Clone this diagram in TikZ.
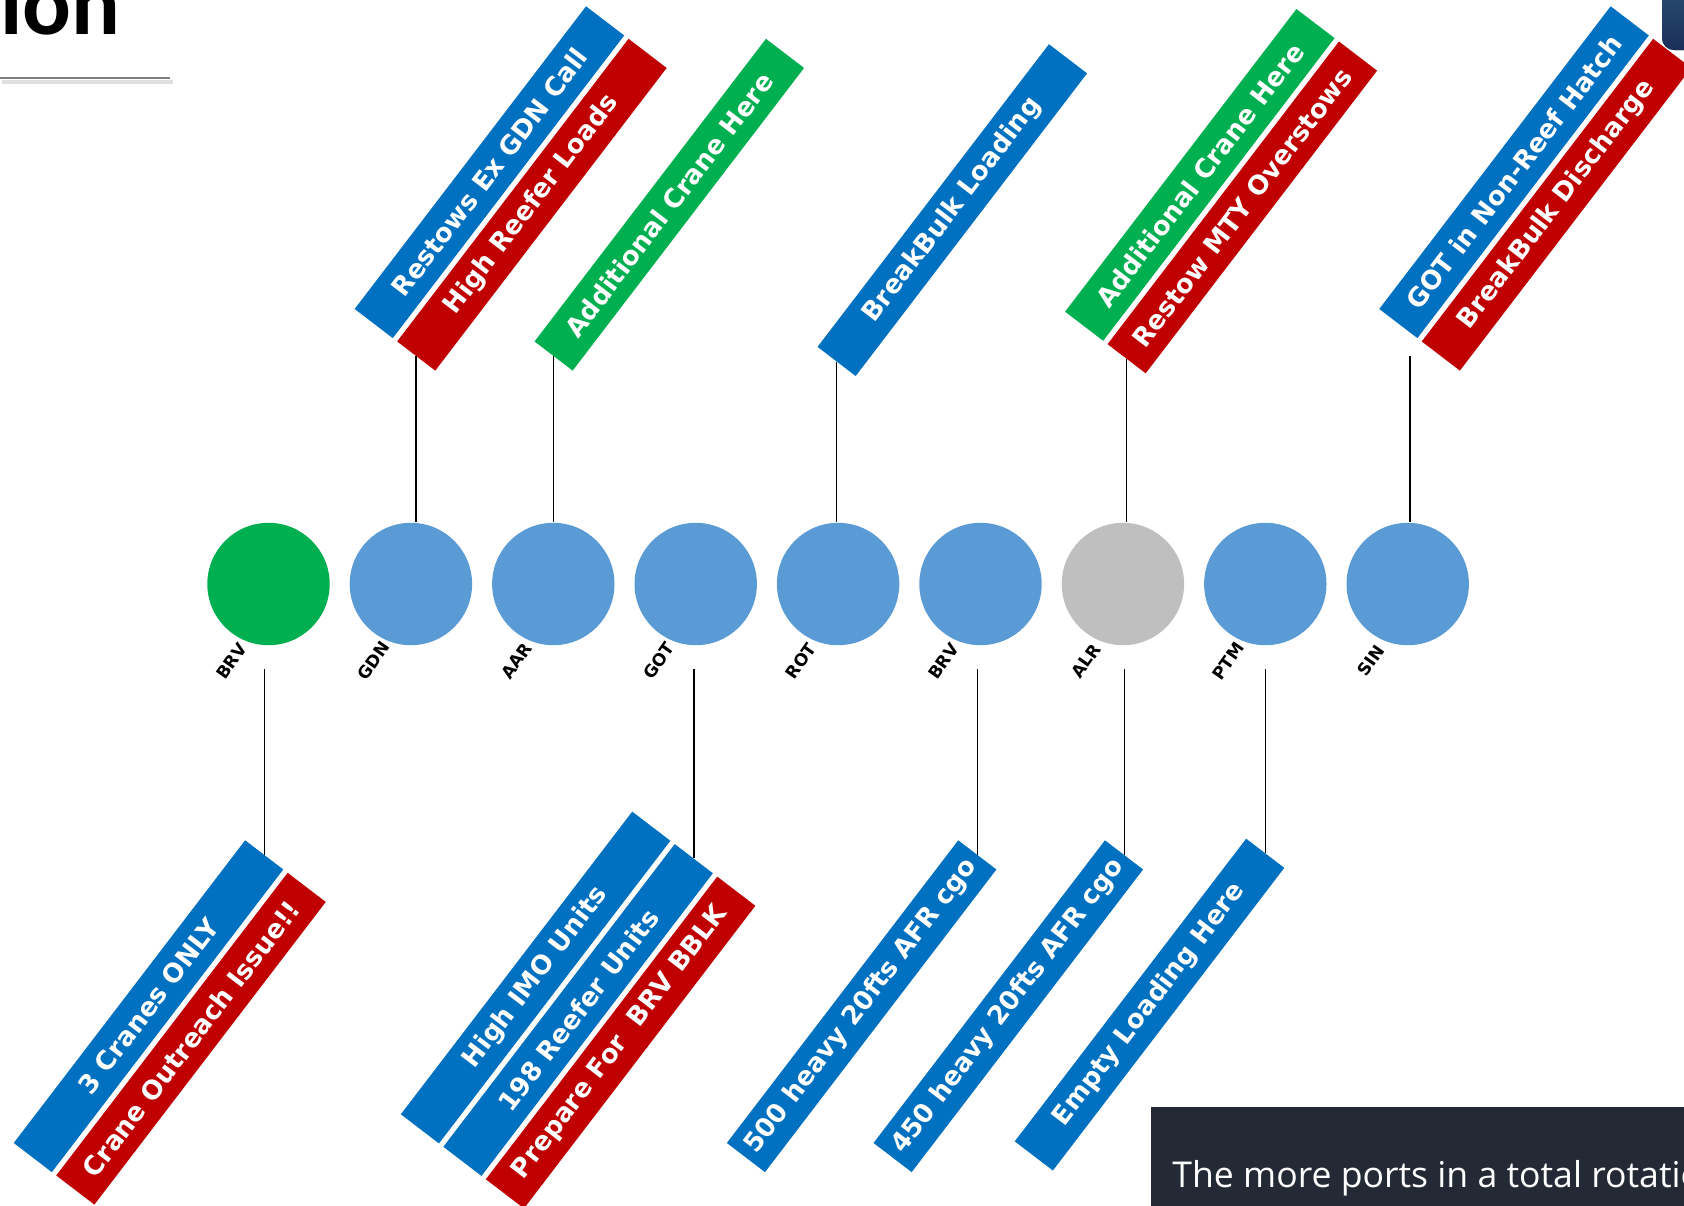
\documentclass[tikz,border=0pt]{standalone}
\usepackage{fontspec}
\usepackage{tikz}
\newfontfamily\bannerfont{DejaVu Sans}
\newfontfamily\titlefont{Carlito}
\newfontfamily\notefont{Open Sans}
\definecolor{oblue}  {RGB}{0,112,192}
\definecolor{ored}   {RGB}{192,0,0}
\definecolor{ogreen} {RGB}{0,176,80}
\definecolor{pblue}  {RGB}{91,155,213}
\definecolor{pgray}  {RGB}{191,191,191}
\definecolor{rulegray}{RGB}{128,128,128}
\definecolor{notebg} {RGB}{35,42,53}
\definecolor{tabtop} {RGB}{46,90,122}
\definecolor{tabbot} {RGB}{27,47,90}
\tikzset{
    port/.style={circle, minimum size=61.2pt, inner sep=0pt, fill=pblue},
    portname/.style={rotate=55, inner sep=0pt,
             font=\bannerfont\bfseries\fontsize{8.5}{10}\selectfont},
    banner/.style={rotate=52.6, minimum width=190.5pt, minimum height=24pt,
             inner sep=0pt, text=white,
             font=\bannerfont\bfseries\fontsize{13}{15}\selectfont},
    bluebanner/.style={banner, fill=oblue},
    redbanner/.style={banner, fill=ored},
    greenbanner/.style={banner, fill=ogreen},
    tag/.style={draw=black, line width=0.7pt}
  }
\begin{document}
\begin{tikzpicture}[x=0.5pt, y=-0.5pt]
 \useasboundingbox (0,0) rectangle (1684,1205);
 %title remainder
     \node[anchor=base west, inner sep=0pt,
           font=\titlefont\bfseries\fontsize{45.5}{50}\selectfont] (title) at (0,34) {ion};
     \draw[rulegray!50, line width=2pt, opacity=.5] (2,82) -- (173,82);
     \draw[rulegray, line width=1.4pt] (0,78) -- (170,78);
 %tab top right
     \fill[top color=tabtop, bottom color=tabbot, rounded corners=6pt] (1662,-40) rectangle (1760,50);
 %ports
     \node[port, fill=ogreen] (brvA) at (268.5,584) {};
     \node[port] (gdn)  at (410.9,584) {};
     \node[port] (aar)  at (553.3,584) {};
     \node[port] (got)  at (695.7,584) {};
     \node[port] (rot)  at (838.1,584) {};
     \node[port] (brvB) at (980.5,584) {};
     \node[port, fill=pgray] (alr) at (1122.9,584) {};
     \node[port] (ptm)  at (1265.3,584) {};
     \node[port] (sin)  at (1407.7,584) {};
 %port names
     \node[portname] (brvA-lab) at (231.5,661) {BRV};
     \node[portname] (gdn-lab)  at (373.9,661) {GDN};
     \node[portname] (aar-lab)  at (516.3,661) {AAR};
     \node[portname] (got-lab)  at (658.7,661) {GOT};
     \node[portname] (rot-lab)  at (801.1,661) {ROT};
     \node[portname] (brvB-lab) at (943.5,661) {BRV};
     \node[portname] (alr-lab)  at (1085.9,661) {ALR};
     \node[portname] (ptm-lab)  at (1228.3,661) {PTM};
     \node[portname] (sin-lab)  at (1370.7,661) {SIN};
 %banners above
     \node[bluebanner]  (gdnT1) at (489.4,172.2) {Restows Ex GDN Call};
     \node[redbanner]   (gdnT2) at (531.9,204.7) {High Reefer Loads};
     \node[greenbanner] (aarT1) at (669.3,204.7) {Additional Crane Here};
     \node[bluebanner]  (rotT1) at (952.3,210.1) {BreakBulk Loading};
     \node[greenbanner] (alrT1) at (1199.8,174.9) {Additional Crane Here};
     \node[redbanner]   (alrT2) at (1242.3,207.4) {Restow MTY Overstows};
     \node[bluebanner]  (sinT1) at (1514.0,172.2) {GOT in Non-Reef Hatch};
     \node[redbanner]   (sinT2) at (1556.5,204.7) {BreakBulk Discharge};
 %banners below
     \node[bluebanner]  (brvAB1) at (148.5,1006.2) {3 Cranes ONLY};
     \node[redbanner]   (brvAB2) at (191.0,1038.7) {Crane Outreach Issue!!};
     \node[bluebanner]  (gotB1)  at (535.6,977.5) {High IMO Units};
     \node[bluebanner]  (gotB2)  at (578.1,1010.0) {198 Reefer Units};
     \node[redbanner]   (gotB3)  at (620.6,1042.5) {Prepare For\ \ BRV BBLK};
     \node[bluebanner]  (brvBB1) at (861.6,1006.2) {500 heavy 20fts AFR cgo};
     \node[bluebanner]  (alrB1)  at (1008.3,1006.2) {450 heavy 20fts AFR cgo};
     \node[bluebanner]  (ptmB1)  at (1149.5,1004.6) {Empty Loading Here};
 %leaders up
     \coordinate (sintop) at (1410,356);
     \draw[tag] (gdnT2.west) -- (gdnT2.west |- gdn.north);
     \draw[tag] (aarT1.west) -- (aarT1.west |- aar.north);
     \draw[tag] (rotT1.west) -- (rotT1.west |- rot.north);
     \draw[tag] (alrT2.west) -- (alrT2.west |- alr.north);
     \draw[tag] (sintop) -- (sintop |- sin.north);
 %leaders down
     \coordinate (tailrow) at (0,669);
     \draw[tag] (brvAB1.east) -- (brvAB1.east |- tailrow);
     \draw[tag] (gotB2.east)  -- (gotB2.east |- tailrow);
     \draw[tag] (brvBB1.east) -- (brvBB1.east |- tailrow);
     \draw[tag] (alrB1.east)  -- (alrB1.east |- tailrow);
     \draw[tag] (ptmB1.east)  -- (ptmB1.east |- tailrow);
 %note box
     \fill[notebg] (1151,1107) rectangle (1720,1230);
     \node[anchor=base west, inner sep=0pt, text=white,
           font=\notefont\fontsize{17.8}{20}\selectfont] (note) at (1172,1187) {The more ports in a total rotation};
 \end{tikzpicture}
\end{document}
